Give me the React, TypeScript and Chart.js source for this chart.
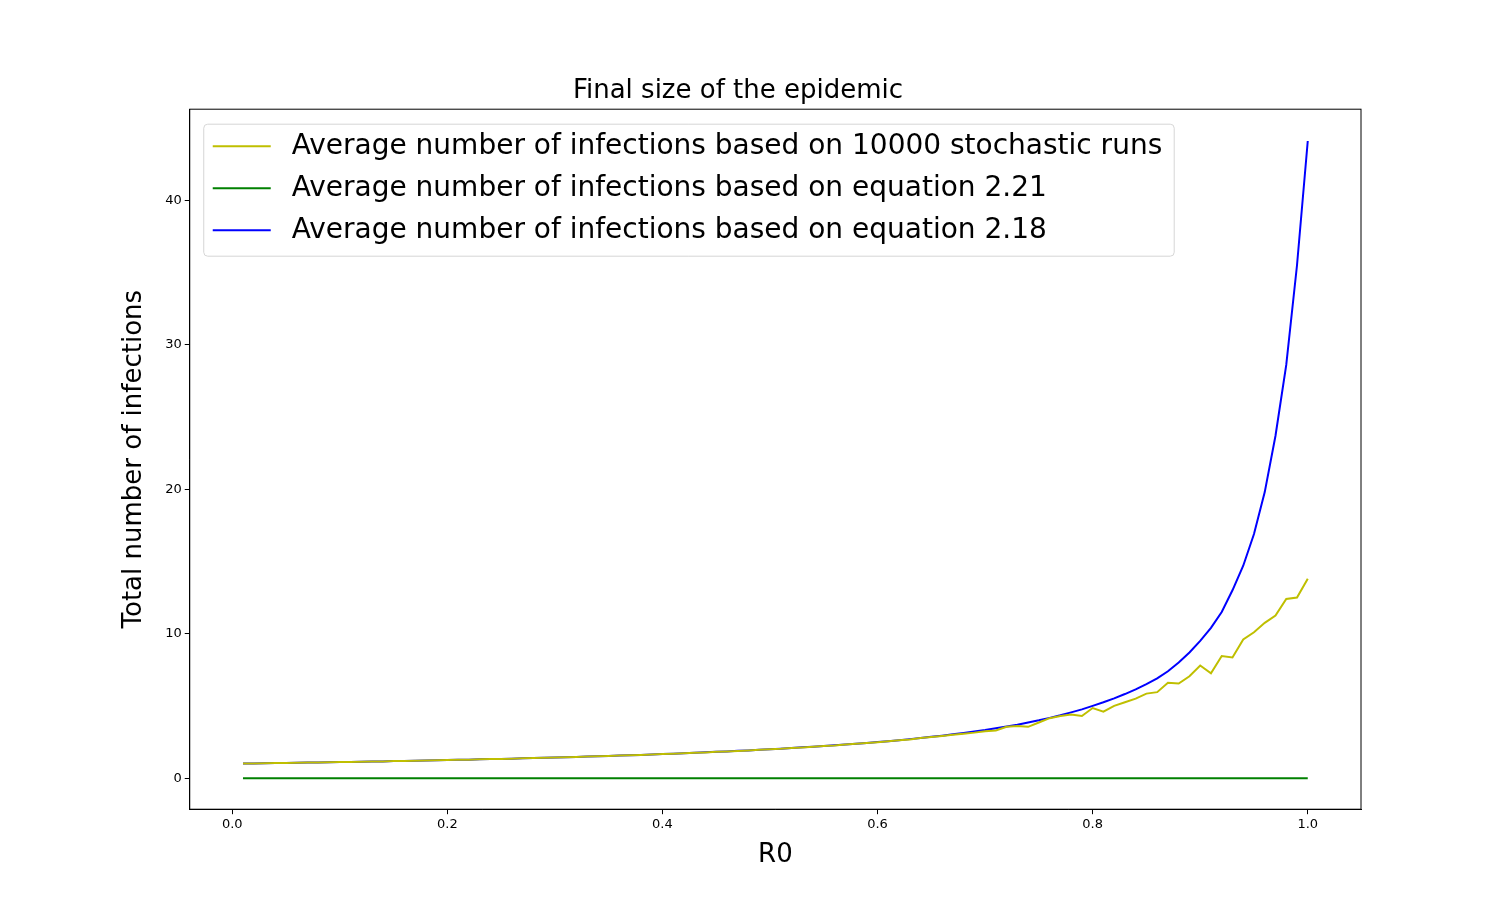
import { useEffect, useRef } from 'react'
import { Chart, registerables } from 'chart.js'

Chart.register(...registerables)

const r0 = Array.from({ length: 100 }, (_, i) => +((i + 1) / 100).toFixed(2))

const stochastic = [
  1.01, 1.02, 1.03, 1.04, 1.05, 1.06, 1.08, 1.09, 1.10, 1.11,
  1.12, 1.14, 1.15, 1.16, 1.18, 1.19, 1.20, 1.22, 1.23, 1.25,
  1.27, 1.28, 1.30, 1.32, 1.33, 1.35, 1.37, 1.39, 1.41, 1.43,
  1.45, 1.47, 1.49, 1.52, 1.54, 1.56, 1.59, 1.61, 1.64, 1.67,
  1.69, 1.72, 1.75, 1.78, 1.82, 1.85, 1.88, 1.92, 1.96, 2.00,
  2.03, 2.08, 2.12, 2.17, 2.22, 2.26, 2.32, 2.38, 2.43, 2.49,
  2.55, 2.62, 2.68, 2.77, 2.84, 2.92, 3.00, 3.08, 3.15, 3.25,
  3.30, 3.55, 3.60, 3.55, 3.85, 4.15, 4.30, 4.40, 4.30, 4.85,
  4.60, 5.00, 5.25, 5.50, 5.85, 5.95, 6.60, 6.55, 7.05, 7.80,
  7.25, 8.45, 8.35, 9.60, 10.1, 10.75, 11.25, 12.4, 12.5, 13.8,
]

const eq221 = r0.map(() => 0)

const eq218 = [
  1.01, 1.02, 1.03, 1.04, 1.05, 1.06, 1.08, 1.09, 1.10, 1.11,
  1.12, 1.14, 1.15, 1.16, 1.18, 1.19, 1.20, 1.22, 1.23, 1.25,
  1.27, 1.28, 1.30, 1.32, 1.33, 1.35, 1.37, 1.39, 1.41, 1.43,
  1.45, 1.47, 1.49, 1.52, 1.54, 1.56, 1.59, 1.61, 1.64, 1.67,
  1.69, 1.72, 1.75, 1.79, 1.82, 1.85, 1.89, 1.92, 1.96, 2.00,
  2.04, 2.08, 2.13, 2.17, 2.22, 2.27, 2.33, 2.38, 2.44, 2.50,
  2.56, 2.63, 2.70, 2.78, 2.86, 2.94, 3.03, 3.13, 3.23, 3.33,
  3.45, 3.57, 3.70, 3.85, 4.00, 4.17, 4.35, 4.55, 4.76, 5.00,
  5.25, 5.52, 5.82, 6.14, 6.50, 6.90, 7.40, 8.00, 8.70, 9.50,
  10.4, 11.5, 13.0, 14.7, 16.9, 19.8, 23.7, 28.6, 35.5, 44.1,
]

const xTicks = [0, 0.2, 0.4, 0.6, 0.8, 1.0]
const yTicks = [0, 10, 20, 30, 40]

const font = 'DejaVu Sans'

// legend drawn inside the plot area, matplotlib style
const innerLegend = {
  id: 'innerLegend',
  afterDraw(chart: Chart) {
    const { ctx, chartArea } = chart
    const x0 = chartArea.left + 14, y0 = chartArea.top + 15
    const rowH = 42
    ctx.save()
    ctx.font = `28px "${font}"`
    const labels = chart.data.datasets.map(d => d.label as string)
    const w = Math.max(...labels.map(l => ctx.measureText(l).width)) + 100
    const h = rowH * labels.length + 6
    ctx.fillStyle = 'rgba(255,255,255,0.8)'
    ctx.strokeStyle = '#d6d6d6'
    ctx.lineWidth = 1
    ctx.beginPath()
    ctx.roundRect(x0, y0, w, h, 4)
    ctx.fill(); ctx.stroke()
    chart.data.datasets.forEach((d, i) => {
      const y = y0 + 22 + i * rowH
      ctx.strokeStyle = d.borderColor as string
      ctx.lineWidth = 2
      ctx.beginPath(); ctx.moveTo(x0 + 9, y); ctx.lineTo(x0 + 67, y); ctx.stroke()
      ctx.fillStyle = '#000'
      ctx.textBaseline = 'middle'
      ctx.fillText(labels[i], x0 + 88, y + 1)
    })
    ctx.restore()
  },
}

export default function App() {
  const ref = useRef<HTMLCanvasElement>(null)
  useEffect(() => {
    if (!ref.current) return
    const mk = (label: string, ys: number[], color: string) => ({
      label, borderColor: color, backgroundColor: color, borderWidth: 2,
      pointRadius: 0, tension: 0,
      data: r0.map((x, i) => ({ x, y: ys[i] })),
    })
    const chart = new Chart(ref.current, {
      type: 'line',
      data: {
        datasets: [
          mk('Average number of infections based on 10000 stochastic runs', stochastic, '#bfbf00'),
          mk('Average number of infections based on equation 2.21', eq221, '#008000'),
          mk('Average number of infections based on equation 2.18', eq218, '#0000ff'),
        ],
      },
      options: {
        animation: false,
        responsive: false,
        layout: { padding: { left: 115, right: 151, top: 76, bottom: 34 } },
        plugins: {
          legend: { display: false },
          tooltip: { enabled: false },
          title: {
            display: true, text: 'Final size of the epidemic', color: '#000',
            font: { family: font, size: 26, weight: 'normal' }, padding: { top: 0, bottom: 2 },
          },
        },
        scales: {
          x: {
            type: 'linear', min: -0.0395, max: 1.0495,
            afterBuildTicks: s => { s.ticks = xTicks.map(v => ({ value: v })) },
            ticks: { color: '#000', font: { family: font, size: 13 }, callback: v => Number(v).toFixed(1), maxRotation: 0 },
            grid: { drawOnChartArea: false, color: '#000', tickLength: 5 },
            border: { color: '#000' },
            title: { display: true, text: 'R0', color: '#000', font: { family: font, size: 26 }, padding: { top: 4 } },
          },
          y: {
            type: 'linear', min: -2.15, max: 46.3,
            afterBuildTicks: s => { s.ticks = yTicks.map(v => ({ value: v })) },
            ticks: { color: '#000', font: { family: font, size: 13 } },
            grid: { drawOnChartArea: false, color: '#000', tickLength: 5 },
            border: { color: '#000' },
            title: { display: true, text: 'Total number of infections', color: '#000', font: { family: font, size: 26 }, padding: { bottom: 12 } },
          },
        },
      },
      plugins: [innerLegend, {
        id: 'frame',
        afterDraw(c: Chart) {
          const { ctx, chartArea: a } = c
          ctx.save(); ctx.strokeStyle = '#000'; ctx.lineWidth = 1
          ctx.strokeRect(a.left, a.top, a.right - a.left, a.bottom - a.top)
          ctx.restore()
        },
      }],
    })
    return () => chart.destroy()
  }, [])
  return (
    <div style={{ position: 'fixed', left: 0, top: 0, width: 1512, height: 909, background: '#fff' }}>
      <canvas ref={ref} width={1512} height={909} />
    </div>
  )
}
